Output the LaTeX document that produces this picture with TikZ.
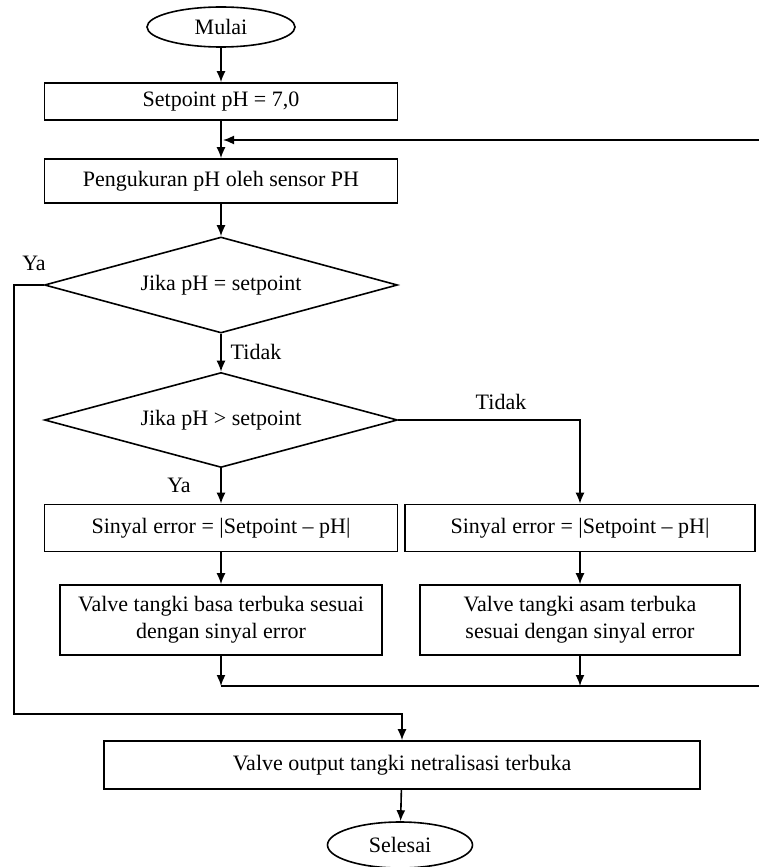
\documentclass[tikz,border=0pt]{standalone}
\usepackage{fontspec}
\setmainfont{Liberation Serif}
\usepackage{tikz}
\usetikzlibrary{shapes.geometric, arrows.meta, positioning, calc}

\tikzset{
    every node/.style={font=\fontsize{22}{27}\selectfont},
    garis/.style={line width=1.6pt},
    panah/.style={garis, -{Latex[length=11pt,width=9pt]}},
    proses/.style={draw, line width=1.6pt, rectangle, inner sep=2pt, align=center},
    keputusan/.style={draw, line width=1.6pt, diamond, aspect=3.7, inner sep=0pt,
        minimum width=353pt, minimum height=96pt},
    terminal/.style={draw, line width=1.6pt, ellipse, inner sep=0pt},
}

\begin{document}
\begin{tikzpicture}[x=1pt, y=-1pt]
    \useasboundingbox (0,0) rectangle (758,867);
    % Awal
    \node[terminal, minimum width=148pt, minimum height=40pt] (mulai) at (221,27) {Mulai};
    \node[proses, minimum width=353pt, minimum height=37pt] (setpoint) at (221,101.5) {Setpoint pH = 7,0};
    \node[proses, minimum width=353pt, minimum height=44pt] (ukur) at (221,181) {Pengukuran pH oleh sensor PH};
    % Keputusan
    \node[keputusan] (cek1) at (221,285) {Jika pH = setpoint};
    \node[keputusan, minimum height=95pt] (cek2) at (221,420) {Jika pH > setpoint};
    % Cabang basa / asam
    \node[proses, minimum width=353pt, minimum height=47pt] (errA) at (221,528) {Sinyal error = |Setpoint -- pH|};
    \node[proses, minimum width=350pt, minimum height=47pt] (errB) at (580,528) {Sinyal error = |Setpoint -- pH|};
    \node[proses, minimum width=322pt, minimum height=70pt] (basa) at (221,620) {Valve tangki basa terbuka sesuai\\dengan sinyal error};
    \node[proses, minimum width=320pt, minimum height=70pt] (asam) at (580,620) {Valve tangki asam terbuka\\sesuai dengan sinyal error};
    % Akhir
    \node[proses, minimum width=596pt, minimum height=48pt] (keluar) at (402,765) {Valve output tangki netralisasi terbuka};
    \node[terminal, minimum width=145pt, minimum height=46pt] (selesai) at (400,845) {Selesai};
    % Titik bantu
    \coordinate (gabungL) at (221,686);
    \coordinate (gabungR) at (766,686);
    \coordinate (balikR) at (766,140);
    \coordinate (balikL) at (223,140);
    \coordinate (yaA) at (14,285);
    \coordinate (yaB) at (14,714);
    \coordinate (yaC) at (402,714);
    % Label
    \node (ya1) at (34,263) {Ya};
    \node (tidak1) at (256,352) {Tidak};
    \node (tidak2) at (501,402) {Tidak};
    \node (ya2) at (179,485) {Ya};
    % Panah
    \draw[panah] (mulai) -- (setpoint);
    \draw[panah] (setpoint) -- (ukur);
    \draw[panah] (ukur) -- (cek1);
    \draw[panah] (cek1) -- (cek2);
    \draw[panah] (cek2) -- (errA);
    \draw[panah] (cek2.east) -- (errB.north |- cek2.east) -- (errB);
    \draw[panah] (errA) -- (basa);
    \draw[panah] (errB) -- (asam);
    \draw[panah] (basa) -- (gabungL);
    \draw[panah] (asam) -- (asam.south |- gabungL);
    \draw[panah] (gabungL) -- (gabungR) -- (balikR) -- (balikL);
    \draw[panah] (cek1.west) -- (yaA) -- (yaB) -- (yaC) -- (keluar);
    \draw[panah] (keluar) -- (selesai);
\end{tikzpicture}
\end{document}
